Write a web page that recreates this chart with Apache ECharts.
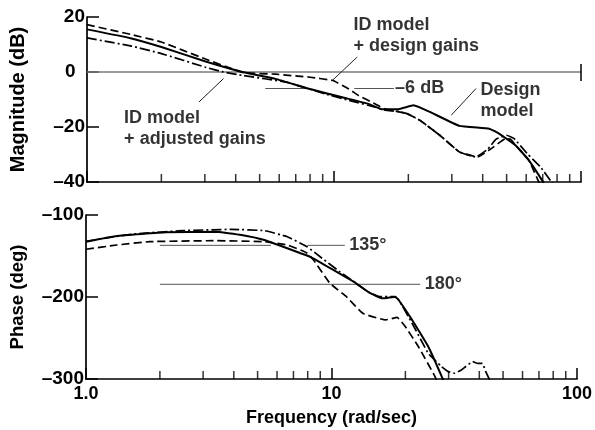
<!DOCTYPE html>
<html><head><meta charset="utf-8">
<script src="https://cdn.jsdelivr.net/npm/echarts/dist/echarts.min.js"></script>
<style>html,body{margin:0;padding:0;background:#fff}#c{width:595px;height:430px}</style>
</head><body><div id="c"></div>
<script>
// ---------- Magnitude (dB) ----------
const magFreqDesign = [1, 1.5, 2, 3, 4.3, 5.8, 8, 10.8, 13.8, 15.6, 18.2, 21, 24.4, 32.2, 42.5, 46.6, 54.4, 61.5, 69.6, 72];
const magDesign     = [15.5, 12.3, 9.1, 3.9, -0.1, -2.5, -6.2, -9.2, -11.6, -13.5, -13.5, -12.1, -14.5, -19.6, -20.6, -22.4, -26.7, -32.1, -39.4, -42];

const magFreqIdDesign = [1, 1.5, 2, 3, 4.3, 5.8, 8, 9.9, 11.5, 12.6, 14.7, 16.1, 18, 19.7, 22.3, 26.8, 32.2, 38.2, 43.9, 49.6, 52, 54.4, 61.5, 67.5, 70];
const magIdDesign     = [17.2, 13.7, 10.9, 4.8, -0.2, -0.8, -1.9, -3.1, -6.2, -8.6, -11.6, -13.5, -14.3, -15.1, -17.6, -23, -29.1, -30.9, -27.5, -24.2, -24.5, -26.7, -32.1, -40, -42];

const magFreqIdAdjusted = [1, 1.5, 2, 3, 3.57, 4.3, 6.4, 9.25, 11.5, 14.7, 16.1, 18, 19.7, 22.3, 26.8, 32.2, 37.6, 42, 45.2, 50, 53.6, 60.6, 68.5, 76, 80];
const magIdAdjusted     = [12.4, 9.5, 6.7, 1.8, 0, -1.3, -3.7, -8, -10.3, -12.8, -13.9, -14.3, -15.1, -17.6, -23, -29.1, -30.9, -28, -24.5, -23, -24.2, -29.7, -34.5, -40, -43];

// ---------- Phase (deg) ----------
const phFreqDesign = [1, 1.335, 2.12, 3.36, 4.3, 5.33, 6.61, 7.48, 8.2, 10.17, 12.6, 14.27, 16.1, 18.2, 21.3, 24.8, 28.5, 29];
const phDesign     = [-132.5, -125.6, -121.1, -120.4, -124.4, -130.5, -140.6, -146.7, -151, -167, -183.3, -194.8, -201.6, -199.6, -228, -260.6, -301, -308];

const phFreqIdDesign = [1, 1.335, 1.82, 3.36, 5.33, 6.61, 7.48, 7.96, 8.45, 9.86, 11.5, 13.4, 16.6, 18.5, 20.0, 22.6, 26.4, 27.5];
const phIdDesign     = [-141.8, -136.6, -132.5, -131.3, -132.5, -136.6, -142.7, -146.7, -154.9, -183.3, -199.6, -219.9, -228, -224.8, -236.2, -260.6, -297, -310];

const phFreqIdAdjusted = [1, 1.557, 2.47, 3.92, 5.33, 6.61, 7.48, 7.96, 8.99, 10.8, 12.6, 14.05, 15.6, 18.0, 18.8, 21.3, 24.8, 28.1, 29.9, 31.8, 33.8, 37.6, 39.4, 41.2, 42.5, 43.9, 44.5];
const phIdAdjusted     = [-132, -123.2, -119.1, -117.5, -119.1, -126.5, -134.5, -138.7, -150.9, -169.1, -183.3, -193.5, -199.6, -199.6, -203.7, -232, -268.7, -285, -291, -293, -289, -278.9, -281, -281, -291, -300, -305];

// ---------- Axes ----------
const freqTickLabels = {1: '1.0', 10: '10', 100: '100'};
const minorFreqTicks = [2, 3, 4, 5, 6, 7, 8, 9, 20, 30, 40, 50, 60, 70, 80, 90];
const magRange = [-40, 20], magStep = 20;
const phRange = [-300, -100], phStep = 100;

// ---------- Reference lines & annotations ----------
const refSegments = [
  {g: 0, f: [5.27, 7.83], v: -6},
  {g: 0, f: [12.08, 17.48], v: -6},
  {g: 1, f: [2.0, 5.67], v: -137},
  {g: 1, f: [7.98, 11.33], v: -137},
  {g: 1, f: [2.0, 22.98], v: -184.5}
];
const leaders = [
  {g: 0, p: [[2.84, -10.9], [3.57, -2.4]]},
  {g: 0, p: [[12.42, 5.45], [9.86, -3.0]]},
  {g: 0, p: [[37.6, -6.0], [29.85, -15.7]]}
];
const notes = [
  {g: 0, f: 1.42, v: -13.0, text: 'ID model\n+ adjusted gains', va: 'top'},
  {g: 0, f: 12.05, v: 20.8, text: 'ID model\n+ design gains', va: 'top'},
  {g: 0, f: 39.4, v: -2.8, text: 'Design\nmodel', va: 'top'},
  {g: 0, f: 17.76, v: -6, text: '\u20136 dB', va: 'middle'},
  {g: 1, f: 11.86, v: -137, text: '135\u00b0', va: 'middle'},
  {g: 1, f: 24.07, v: -184.5, text: '180\u00b0', va: 'middle'}
];

const zip = (a, b) => a.map((x, i) => [x, b[i]]);
const FONT = 'Liberation Sans';
const BLACK = '#000';

function curve(g, f, v, type, w) {
  return {type: 'line', xAxisIndex: g, yAxisIndex: g, data: zip(f, v), symbol: 'none', smooth: 0.1,
    clip: true, z: 5, lineStyle: {color: BLACK, width: w, type: type}, silent: true};
}

const series = [];
series.push(curve(0, magFreqDesign, magDesign, 'solid', 2));
series.push(curve(0, magFreqIdDesign, magIdDesign, [8, 4], 1.7));
series.push(curve(0, magFreqIdAdjusted, magIdAdjusted, [10, 3, 2, 3], 1.7));
series.push(curve(1, phFreqDesign, phDesign, 'solid', 2));
series.push(curve(1, phFreqIdDesign, phIdDesign, [8, 4], 1.7));
series.push(curve(1, phFreqIdAdjusted, phIdAdjusted, [10, 3, 2, 3], 1.7));

// zero dB line with end tick
series.push({type: 'line', xAxisIndex: 0, yAxisIndex: 0, data: [[1, 0], [100, 0]], symbol: 'none', z: 2,
  lineStyle: {color: '#7a7a7a', width: 1.6}, silent: true});
series.push({type: 'line', xAxisIndex: 0, yAxisIndex: 0, data: [[100, 2.9], [100, -3.3]], symbol: 'none', z: 2, clip: false,
  lineStyle: {color: BLACK, width: 1.5}, silent: true});

refSegments.forEach(s => series.push({type: 'line', xAxisIndex: s.g, yAxisIndex: s.g,
  data: s.f.map(f => [f, s.v]), symbol: 'none', z: 2, lineStyle: {color: '#555', width: 1}, silent: true}));
leaders.forEach(s => series.push({type: 'line', xAxisIndex: s.g, yAxisIndex: s.g, data: s.p,
  symbol: 'none', z: 2, clip: false, lineStyle: {color: '#222', width: 1}, silent: true}));

notes.forEach(n => series.push({type: 'scatter', xAxisIndex: n.g, yAxisIndex: n.g, data: [[n.f, n.v]],
  symbolSize: 1, clip: false, itemStyle: {color: 'rgba(0,0,0,0)'}, silent: true, z: 6,
  label: {show: true, position: [0, 0], align: 'left', verticalAlign: n.va, formatter: n.text,
    fontFamily: FONT, fontWeight: 'bold', fontSize: 18, lineHeight: 21, color: BLACK}}));

// minor log ticks
[0, 1].forEach(g => series.push({type: 'scatter', xAxisIndex: g, yAxisIndex: g, silent: true, clip: false, z: 4,
  data: minorFreqTicks.map(f => [f, g === 0 ? magRange[0] : phRange[0]]),
  symbol: 'rect', symbolSize: [1.5, 8], symbolOffset: [0, -4], itemStyle: {color: BLACK}}));

const axisLineStyle = {color: BLACK, width: 1.7};
function xAxis(g) {
  return {type: 'log', logBase: 10, min: 1, max: 100, gridIndex: g,
    axisLine: {onZero: false, lineStyle: axisLineStyle},
    axisTick: {inside: true, length: 11, lineStyle: {color: BLACK, width: 1.5}},
    splitLine: {show: false}, minorTick: {show: false},
    axisLabel: {show: g === 1, formatter: v => freqTickLabels[Math.round(v)] || '', fontFamily: FONT,
      fontWeight: 'bold', fontSize: 18, color: BLACK, margin: 6},
    name: g === 1 ? 'Frequency (rad/sec)' : '', nameLocation: 'middle', nameGap: 30,
    nameTextStyle: {fontFamily: FONT, fontWeight: 'bold', fontSize: 18, color: BLACK}};
}
function yAxis(g, range, step, name, nameSize) {
  return {type: 'value', min: range[0], max: range[1], interval: step, gridIndex: g,
    axisLine: {show: true, onZero: false, lineStyle: axisLineStyle},
    axisTick: {show: true, inside: true, length: 12, lineStyle: {color: BLACK, width: 1.5}},
    splitLine: {show: false},
    axisLabel: {formatter: v => (v === 0 ? '0\u2002' : String(v).replace('-', '\u2013')), fontFamily: FONT, fontWeight: 'bold',
      fontSize: 19, color: BLACK, margin: 2},
    name: name, nameLocation: 'middle', nameGap: 59,
    nameTextStyle: {fontFamily: FONT, fontWeight: 'bold', fontSize: nameSize, color: BLACK}};
}

const chart = echarts.init(document.getElementById('c'), null, {renderer: 'canvas'});
chart.setOption({
  animation: false,
  backgroundColor: '#fff',
  grid: [
    {left: 82, top: 17, width: 499, height: 165},
    {left: 82, top: 215, width: 499, height: 164}
  ],
  xAxis: [xAxis(0), xAxis(1)],
  yAxis: [yAxis(0, magRange, magStep, 'Magnitude (dB)', 20), yAxis(1, phRange, phStep, 'Phase (deg)', 18.5)],
  series: series
});
</script>
</body></html>
